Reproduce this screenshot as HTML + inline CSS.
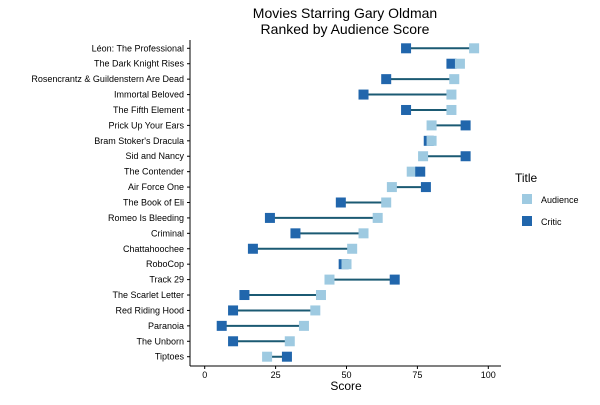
<!DOCTYPE html>
<html><head><meta charset="utf-8"><style>
body{margin:0;background:#fff;font-family:"Liberation Sans",Arial,sans-serif}
svg text{font-family:"Liberation Sans",Arial,sans-serif}
</style></head><body>
<svg id="chart" width="600" height="400">
<text x="345" y="18" text-anchor="middle" font-size="14">Movies Starring Gary Oldman</text>
<text x="345" y="34" text-anchor="middle" font-size="14">Ranked by Audience Score</text>
<line x1="190" y1="40" x2="190" y2="366" stroke="#000" stroke-width="1"/>
<line x1="190" y1="366" x2="501" y2="366" stroke="#000" stroke-width="1"/>
<g id="xticks"></g><g id="rows"></g>
<text x="346" y="390" text-anchor="middle" font-size="12">Score</text>
<text x="515" y="182" font-size="12">Title</text>
<rect x="522" y="194" width="10" height="10" fill="#9ecae1"/>
<text x="541" y="203" font-size="9">Audience</text>
<rect x="522" y="216" width="10" height="10" fill="#2166ac"/>
<text x="541" y="225" font-size="9">Critic</text>
</svg>
<script>
const movies=["Léon: The Professional","The Dark Knight Rises","Rosencrantz & Guildenstern Are Dead","Immortal Beloved","The Fifth Element","Prick Up Your Ears","Bram Stoker's Dracula","Sid and Nancy","The Contender","Air Force One","The Book of Eli","Romeo Is Bleeding","Criminal","Chattahoochee","RoboCop","Track 29","The Scarlet Letter","Red Riding Hood","Paranoia","The Unborn","Tiptoes"];
const audience=[95,90,88,87,87,80,80,77,73,66,64,61,56,52,50,44,41,39,35,30,22];
const critic=[71,87,64,56,71,92,79,92,76,78,48,23,32,17,49,67,14,10,6,10,29];
const xTicks=[0,25,50,75,100];
const NS="http://www.w3.org/2000/svg";
const xs=v=>204.7+v*2.836;
const ys=i=>48.3+i*15.42;
function mk(t,a,p){const e=document.createElementNS(NS,t);for(const k in a)e.setAttribute(k,a[k]);p.appendChild(e);return e;}
const xt=document.getElementById('xticks');
xTicks.forEach(t=>{
  const l=mk('line',{x1:xs(t),x2:xs(t),y1:366,y2:369,stroke:'#000'},xt);
  
  
  const tx=mk('text',{x:xs(t),y:378,'text-anchor':'middle','font-size':9},xt);
  tx.textContent=t;
  
  
});
const rg=document.getElementById('rows');
movies.forEach((m,i)=>{
  const y=ys(i);
  const lab=mk('text',{x:184,y:y+3,'text-anchor':'end','font-size':9},rg);
  lab.textContent=m;
  
  
  const tk=mk('line',{x1:187,x2:190,y1:y,y2:y,stroke:'#000'},rg);
  
  
  const ln=mk('line',{x1:xs(audience[i]),x2:xs(critic[i]),y1:y,y2:y,stroke:'#1b5a73','stroke-width':2},rg);
  
  
  const drawA=()=>{
    const a=mk('rect',{x:xs(audience[i])-5,y:y-5,width:10,height:10,fill:'#9ecae1'},rg);
    
    
  };
  const drawC=()=>{
    const c=mk('rect',{x:xs(critic[i])-5,y:y-5,width:10,height:10,fill:'#2166ac'},rg);
    
    
  };
  if(audience[i]>critic[i]){drawC();drawA();}else{drawA();drawC();}
});
</script>
</body></html>
